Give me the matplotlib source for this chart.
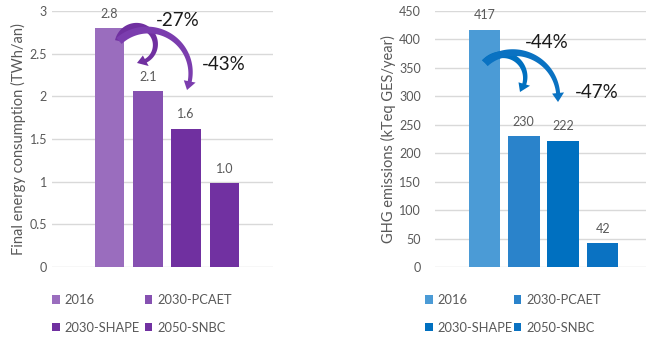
import numpy as np
import matplotlib
matplotlib.use("Agg")
import matplotlib.pyplot as plt
from matplotlib.patches import Polygon
from matplotlib.transforms import IdentityTransform

plt.rcParams['font.family'] = ['Lato', 'DejaVu Sans']

scenarios = ["2016", "2030-PCAET", "2030-SHAPE", "2050-SNBC"]
energy_twh = [2.8, 2.06, 1.62, 0.98]
ghg_kteq = [417, 230, 222, 42]
energy_ticks = [0, 0.5, 1, 1.5, 2, 2.5, 3]
ghg_ticks = [0, 50, 100, 150, 200, 250, 300, 350, 400, 450]
energy_cuts = ["-27%", "-43%"]
ghg_cuts = ["-44%", "-47%"]

purples = ["#9A6DBE", "#8651B1", "#7030A0", "#7131A1"]
blues = ["#4B9BD6", "#2A83CB", "#0070C0", "#0A72C2"]
grey = "#595959"

W, H = 647, 339
fig = plt.figure(figsize=(W / 100, H / 100), dpi=100)


def px_axes(x0, x1, ytop, ybot):
    return fig.add_axes([x0 / W, (H - ybot) / H, (x1 - x0) / W, (ybot - ytop) / H])


def style(ax, ticks, ylabel, pad, labelpad):
    ax.set_yticks(ticks)
    ax.set_yticklabels([f"{t:g}" for t in ticks])
    ax.set_ylim(ticks[0], ticks[-1])
    ax.set_xticks([])
    for s in ax.spines.values():
        s.set_visible(False)
    ax.tick_params(axis='y', length=0, pad=pad, labelsize=9, labelcolor=grey)
    ax.yaxis.grid(True, color="#D9D9D9", linewidth=1)
    ax.set_axisbelow(True)
    ax.set_ylabel(ylabel, fontsize=10.5, color=grey, labelpad=labelpad)


def bars(ax, values, colors, width, fmt, offset):
    xs = list(range(len(values)))
    rects = ax.bar(xs, values, width=width, color=colors)
    for r, v in zip(rects, values):
        ax.annotate(fmt.format(v), (r.get_x() + r.get_width() / 2, v),
                    xytext=(0, offset), textcoords="offset points",
                    ha="center", va="bottom", fontsize=9, color=grey)
    return rects


def curved_arrow(ax, start, via, end, color, w0=8.0, w1=4.0, hw=12.0, hl=9.0):
    """Tapered block arrow along the circular arc through start, via and end."""
    p0, pm, p2 = (ax.transData.transform(p) for p in (start, via, end))
    a = np.array([[2 * (pm[0] - p0[0]), 2 * (pm[1] - p0[1])],
                  [2 * (p2[0] - p0[0]), 2 * (p2[1] - p0[1])]])
    b = np.array([pm @ pm - p0 @ p0, p2 @ p2 - p0 @ p0])
    c = np.linalg.solve(a, b)
    r = np.hypot(*(p0 - c))
    a0, am, a2 = (np.arctan2(*(p - c)[::-1]) for p in (p0, pm, p2))
    ccw = (am - a0) % (2 * np.pi) < (a2 - a0) % (2 * np.pi)
    span = (a2 - a0) % (2 * np.pi) if ccw else -((a0 - a2) % (2 * np.pi))
    t = a0 + span * np.linspace(0, 1, 400)
    pts = c + r * np.column_stack([np.cos(t), np.sin(t)])
    seg = np.hypot(*np.diff(pts, axis=0).T)
    s = np.concatenate([[0], np.cumsum(seg)])
    keep = s <= s[-1] - hl
    body = pts[keep]
    tan = np.gradient(body, axis=0)
    tan /= np.hypot(tan[:, 0], tan[:, 1])[:, None]
    nrm = np.column_stack([-tan[:, 1], tan[:, 0]])
    frac = s[keep] / s[keep][-1]
    w = (w0 + (w1 - w0) * frac)[:, None] / 2
    left = body + nrm * w
    right = body - nrm * w
    base, n_end = body[-1], nrm[-1]
    head = [base + n_end * hw / 2, p2, base - n_end * hw / 2]
    poly = np.vstack([left, head, right[::-1]])
    fig.add_artist(Polygon(poly, closed=True, facecolor=color, edgecolor="none",
                           transform=IdentityTransform(), zorder=5))


def legend(ax, rects, x, y, colspace):
    order = [0, 2, 1, 3]
    leg = ax.legend([rects[i] for i in order], [scenarios[i] for i in order],
                    ncol=2, frameon=False, fontsize=9.3, loc="upper left",
                    bbox_to_anchor=(x / W, 1 - y / H), bbox_transform=fig.transFigure,
                    handlelength=0.6, handleheight=0.6, handletextpad=0.4,
                    columnspacing=colspace, labelspacing=1.2,
                    borderaxespad=0, borderpad=0)
    for t in leg.get_texts():
        t.set_color(grey)


# Left panel: final energy consumption
ax1 = px_axes(52, 273, 11, 267)
r1 = bars(ax1, energy_twh, purples, 0.77, "{:.1f}", 6)
ax1.set_xlim(-1.5, 4.27)
style(ax1, energy_ticks, "Final energy consumption (TWh/an)", 3.6, 2.5)
curved_arrow(ax1, (0.249, 2.649), (1.111, 2.731), (0.719, 2.391), "#7030A0")
curved_arrow(ax1, (0.249, 2.649), (1.85, 2.60), (2.025, 2.074), "#7B3DAE")
ax1.text(1.79, 2.89, energy_cuts[0], fontsize=13.5, ha="center", va="center", color="#1A1A1A")
ax1.text(2.99, 2.37, energy_cuts[1], fontsize=13.5, ha="center", va="center", color="#1A1A1A")
legend(ax1, r1, 52, 294, 0.35)

# Right panel: GHG emissions
ax2 = px_axes(435, 646, 11, 267)
r2 = bars(ax2, ghg_kteq, blues, 0.8, "{:d}", 6)
ax2.set_xlim(-1.25, 4.1)
style(ax2, ghg_ticks, "GHG emissions (kTeq GES/year)", 10, 2.3)
curved_arrow(ax2, (0.018, 358.6), (0.905, 358.6), (0.905, 307.6), "#0070C0")
curved_arrow(ax2, (0.018, 358.6), (1.437, 360.4), (1.869, 290.0), "#0A72C2")
ax2.text(1.59, 394, ghg_cuts[0], fontsize=13.5, ha="center", va="center", color="#1A1A1A")
ax2.text(2.86, 307, ghg_cuts[1], fontsize=13.5, ha="center", va="center", color="#1A1A1A")
legend(ax2, r2, 425, 294, 0.05)

fig.savefig("out.png", dpi=100)
